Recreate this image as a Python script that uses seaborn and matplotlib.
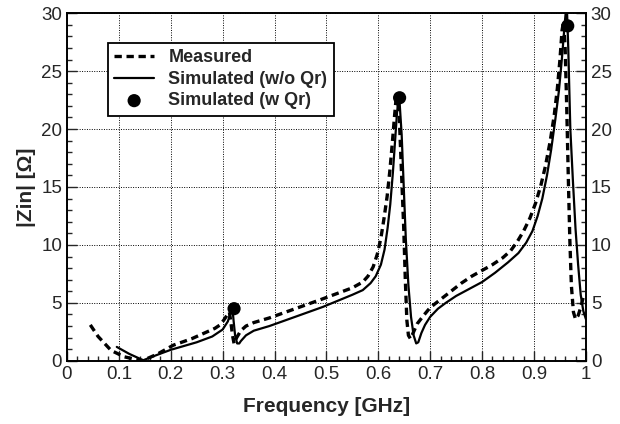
import numpy as np
import pandas as pd
import matplotlib
matplotlib.use("Agg")
import matplotlib.pyplot as plt
import seaborn as sns
from matplotlib.ticker import MultipleLocator

# measured |Zin| (dashed)
meas_f = [0.045, 0.060, 0.085, 0.110, 0.145, 0.175, 0.205, 0.240, 0.270, 0.285,
          0.295, 0.302, 0.308, 0.313, 0.316, 0.319, 0.322, 0.327, 0.335, 0.345,
          0.360, 0.390, 0.440, 0.490, 0.550, 0.570, 0.580, 0.590, 0.598, 0.605,
          0.611, 0.617, 0.622, 0.627, 0.631, 0.634, 0.637, 0.640, 0.644, 0.649,
          0.652, 0.655, 0.658, 0.662, 0.667, 0.675, 0.687, 0.700, 0.720, 0.740,
          0.760, 0.780, 0.800, 0.820, 0.840, 0.855, 0.868, 0.880, 0.892, 0.903,
          0.913, 0.922, 0.931, 0.939, 0.945, 0.950, 0.954, 0.957, 0.960, 0.963,
          0.966, 0.969, 0.972, 0.976, 0.980, 0.985, 0.990, 0.995, 1.000]
meas_z = [3.1, 2.1, 0.9, 0.35, 0.0, 0.6, 1.35, 1.9, 2.5, 2.8,
          3.1, 3.5, 3.9, 4.2, 3.3, 2.2, 1.5, 2.0, 2.6, 3.0,
          3.3, 3.7, 4.5, 5.3, 6.3, 6.8, 7.3, 8.1, 9.2, 10.6,
          12.3, 14.2, 16.3, 18.8, 21.0, 22.5, 22.6, 21.5, 17.0, 11.4,
          7.0, 3.5, 2.2, 1.9, 2.4, 3.2, 3.9, 4.6, 5.3, 6.0,
          6.7, 7.3, 7.8, 8.3, 8.9, 9.5, 10.3, 11.2, 12.3, 13.6,
          15.1, 16.8, 18.9, 21.2, 23.5, 26.0, 28.5, 29.3, 27.0, 22.0,
          16.0, 10.5, 6.5, 4.2, 3.6, 3.9, 4.6, 5.5, 5.6]

# simulated without Qr (solid)
sim_f = [0.096, 0.120, 0.147, 0.170, 0.200, 0.250, 0.280, 0.300, 0.310, 0.316,
         0.319, 0.321, 0.324, 0.328, 0.332, 0.335, 0.345, 0.360, 0.390, 0.440,
         0.493, 0.550, 0.570, 0.585, 0.595, 0.605, 0.612, 0.618, 0.623, 0.628,
         0.632, 0.636, 0.639, 0.641, 0.645, 0.649, 0.653, 0.658, 0.663, 0.668,
         0.673, 0.677, 0.683, 0.690, 0.700, 0.715, 0.730, 0.750, 0.775, 0.800,
         0.825, 0.850, 0.870, 0.885, 0.897, 0.907, 0.916, 0.925, 0.933, 0.941,
         0.948, 0.954, 0.959, 0.963, 0.966, 0.970, 0.975, 0.980, 0.985, 0.990,
         0.995, 1.000]
sim_z = [1.2, 0.6, 0.05, 0.45, 0.95, 1.6, 2.1, 2.7, 3.4, 4.2,
         4.5, 3.5, 2.2, 1.5, 1.5, 1.7, 2.2, 2.6, 3.0, 3.8,
         4.65, 5.7, 6.1, 6.7, 7.3, 8.3, 9.6, 11.5, 13.5, 16.2,
         18.8, 21.4, 22.6, 22.3, 19.5, 15.0, 10.5, 6.5, 3.8, 2.2,
         1.5, 1.6, 2.4, 3.1, 3.8, 4.5, 5.0, 5.6, 6.2, 6.8,
         7.6, 8.5, 9.3, 10.2, 11.2, 12.5, 14.0, 16.0, 18.2, 20.8,
         23.3, 26.2, 29.0, 31.0, 27.0, 20.0, 15.5, 11.4, 8.3, 5.7,
         4.3, 3.6]

# simulated with Qr (dots)
dot_f = [0.322, 0.641, 0.965]
dot_z = [4.5, 22.7, 28.9]

sns.set_style("ticks")
plt.rcParams['font.family'] = ['Liberation Sans', 'DejaVu Sans']

fig, ax = plt.subplots(figsize=(6.2, 4.24), dpi=100)
fig.subplots_adjust(left=0.108, right=0.945, bottom=0.149, top=0.969)

sns.lineplot(x=meas_f, y=meas_z, ax=ax, color="black", lw=2.4, sort=False,
             estimator=None, label="Measured")
ax.lines[-1].set_dashes([2.2, 1.4])
sns.lineplot(x=sim_f, y=sim_z, ax=ax, color="black", lw=1.6, sort=False,
             estimator=None, label="Simulated (w/o Qr)")
sns.scatterplot(x=dot_f, y=dot_z, ax=ax, color="black", s=90, edgecolor="none",
                zorder=5, label="Simulated (w Qr)", clip_on=False)

ax.set_xlim(0, 1)
ax.set_ylim(0, 30)
ax.xaxis.set_major_locator(MultipleLocator(0.1))
ax.xaxis.set_minor_locator(MultipleLocator(0.02))
ax.yaxis.set_major_locator(MultipleLocator(5))
ax.yaxis.set_minor_locator(MultipleLocator(1))
ax.set_xticklabels([f"{v:g}" for v in np.round(ax.get_xticks(), 1)])

ax.grid(True, which="major", color="black", linestyle=(0, (1, 1.5)), lw=0.7)
ax.tick_params(which="both", direction="in", left=True, right=True,
               labelright=True, top=False, labelsize=13.5, width=1)
ax.tick_params(which="major", length=7)
ax.tick_params(which="minor", length=3.5)
for s in ax.spines.values():
    s.set_linewidth(1.4)
    s.set_color("black")

ax.set_xlabel("Frequency [GHz]", fontsize=15, fontweight="bold", labelpad=10)
ax.set_ylabel("|Zin| [Ω]", fontsize=15, fontweight="bold", labelpad=4)

h, l = ax.get_legend_handles_labels()
leg = ax.legend(h, l, loc="upper left", bbox_to_anchor=(0.079, 0.914),
                borderaxespad=0, frameon=True, fancybox=False, edgecolor="black",
                framealpha=1, prop={"weight": "bold", "size": 13},
                handlelength=2.2, labelspacing=0.25, borderpad=0.35,
                handletextpad=0.8)
leg.get_frame().set_linewidth(1.3)

plt.savefig("out.png", dpi=100)
